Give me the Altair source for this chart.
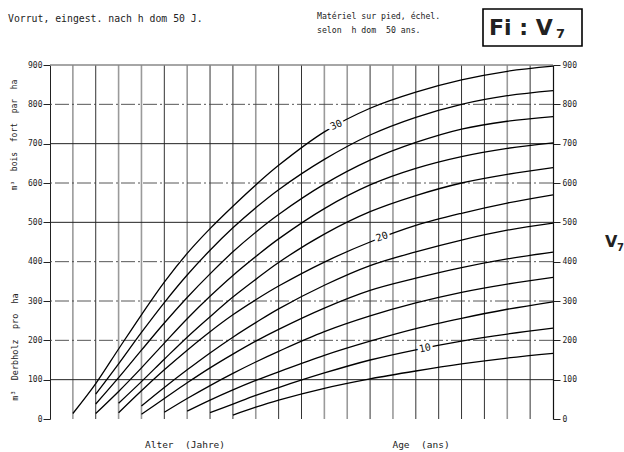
import altair as alt
import pandas as pd

# ---- data (volume m3/ha by age, one curve per h dom 50) ----
AGES_30 = [15, 20, 25, 30, 35, 40, 45, 50, 55, 60, 70, 80, 90, 100, 110, 120]
VOL_30 = [14, 90, 178, 265, 348, 421, 484, 541, 595, 645, 730, 790, 831, 862, 884, 897]
AGES_28 = [20, 25, 30, 35, 40, 45, 50, 55, 60, 70, 80, 90, 100, 110, 120]
VOL_28 = [63, 140, 220, 296, 366, 429, 486, 537, 583, 660, 722, 767, 800, 822, 835]
AGES_26 = [20, 25, 30, 35, 40, 45, 50, 55, 60, 70, 80, 90, 100, 110, 120]
VOL_26 = [38, 105, 175, 244, 309, 369, 425, 475, 520, 597, 658, 703, 737, 757, 769]
AGES_24 = [20, 25, 30, 35, 40, 45, 50, 55, 60, 70, 80, 90, 100, 110, 120]
VOL_24 = [14, 70, 130, 193, 255, 312, 365, 413, 458, 535, 595, 637, 667, 688, 702]
AGES_22 = [25, 30, 35, 40, 45, 50, 55, 60, 70, 80, 90, 100, 110, 120]
VOL_22 = [40, 95, 152, 208, 260, 310, 355, 398, 470, 527, 568, 600, 622, 639]
AGES_20 = [25, 30, 35, 40, 45, 50, 55, 60, 70, 80, 90, 100, 110, 120]
VOL_20 = [16, 72, 125, 175, 222, 265, 303, 338, 399, 450, 492, 523, 549, 570]
AGES_18 = [30, 35, 40, 45, 50, 55, 60, 70, 80, 90, 100, 110, 120]
VOL_18 = [33, 80, 125, 168, 208, 245, 280, 340, 390, 425, 455, 480, 498]
AGES_16 = [30, 35, 40, 45, 50, 55, 60, 70, 80, 90, 100, 110, 120]
VOL_16 = [12, 52, 92, 130, 165, 198, 228, 282, 327, 358, 385, 407, 424]
AGES_14 = [35, 40, 45, 50, 55, 60, 70, 80, 90, 100, 110, 120]
VOL_14 = [17, 52, 85, 116, 145, 172, 222, 262, 295, 322, 343, 360]
AGES_12 = [40, 45, 50, 55, 60, 70, 80, 90, 100, 110, 120]
VOL_12 = [20, 48, 74, 98, 120, 162, 198, 230, 256, 279, 298]
AGES_10 = [45, 50, 55, 60, 70, 80, 90, 100, 110, 120]
VOL_10 = [16, 38, 60, 80, 117, 150, 176, 198, 216, 231]
AGES_8 = [50, 55, 60, 70, 80, 90, 100, 110, 120]
VOL_8 = [10, 30, 48, 78, 102, 122, 140, 155, 167]

CURVES = {
    30: (AGES_30, VOL_30), 28: (AGES_28, VOL_28), 26: (AGES_26, VOL_26),
    24: (AGES_24, VOL_24), 22: (AGES_22, VOL_22), 20: (AGES_20, VOL_20),
    18: (AGES_18, VOL_18), 16: (AGES_16, VOL_16), 14: (AGES_14, VOL_14),
    12: (AGES_12, VOL_12), 10: (AGES_10, VOL_10), 8: (AGES_8, VOL_8),
}

# curve labels: (text, age, volume)
LABEL_TEXT = ["30", "20", "10"]
LABEL_AGE = [72.6, 82.6, 92.0]
LABEL_VOL = [747, 463, 180]

X_TICKS = [10, 20, 30, 40, 50, 60, 70, 80, 90, 100, 110, 120]
Y_TICKS = [0, 100, 200, 300, 400, 500, 600, 700, 800, 900]
V_GRID_DARK = [20, 35, 45, 50, 60, 65, 80, 90, 95, 100, 105, 115]
V_GRID_GRAY = [15, 25, 30, 40, 55, 70, 75, 85, 110]
H_GRID_SOLID = [100, 500, 700]
H_GRID_DASH = [200, 300, 400, 600, 800]

rows = []
for h, (ages, vols) in CURVES.items():
    for a, v in zip(ages, vols):
        rows.append({"h": h, "age": a, "vol": v})
df = pd.DataFrame(rows)

FONT = "DejaVu Sans Mono"
BOLD = "DejaVu Sans"
NB = "\u00a0"
L, T = 50, 65  # plot origin in page pixels
xs = alt.Scale(domain=[10, 120], nice=False, zero=False)
ys = alt.Scale(domain=[0, 900], nice=False)

vgrid_dark = alt.Chart(pd.DataFrame({"age": V_GRID_DARK})).mark_rule(
    color="#333", strokeWidth=1.0
).encode(x=alt.X("age:Q", scale=xs, axis=None))
vgrid_gray = alt.Chart(pd.DataFrame({"age": V_GRID_GRAY})).mark_rule(
    color="#9a9a9a", strokeWidth=1.6
).encode(x=alt.X("age:Q", scale=xs, axis=None))

hgrid_dash = alt.Chart(pd.DataFrame({"vol": H_GRID_DASH})).mark_rule(
    color="#444", strokeWidth=0.9, strokeDash=[14, 3, 2, 3]
).encode(y=alt.Y("vol:Q", scale=ys, axis=None))
hgrid_solid = alt.Chart(pd.DataFrame({"vol": H_GRID_SOLID})).mark_rule(
    color="#222", strokeWidth=1.0
).encode(y=alt.Y("vol:Q", scale=ys, axis=None))

topline = alt.Chart(pd.DataFrame({"vol": [900]})).mark_rule(
    color="#888", strokeWidth=1.5
).encode(y=alt.Y("vol:Q", scale=ys, axis=None))

lines = alt.Chart(df).mark_line(
    color="black", strokeWidth=1.3, interpolate="catmull-rom"
).encode(
    x=alt.X("age:Q", scale=xs, axis=alt.Axis(
        values=X_TICKS, title=None, ticks=False, labelPadding=5,
        labelFont=FONT, labelFontSize=8, labelColor="#222",
        domainColor="#333", domainDash=[14, 3, 2, 3], grid=False)),
    y=alt.Y("vol:Q", scale=ys, axis=alt.Axis(
        orient="left", values=Y_TICKS, title=None, tickSize=7, tickColor="#222",
        labelPadding=1, labelFont=FONT, labelFontSize=8, labelColor="#222",
        domainColor="#222", grid=False)),
    detail="h:N",
)

right_axis = alt.Chart(df).mark_line(opacity=0).encode(
    x=alt.X("age:Q", scale=xs, axis=None),
    y=alt.Y("vol:Q", scale=ys, axis=alt.Axis(
        orient="right", values=Y_TICKS, title=None, tickSize=7, tickColor="#222",
        labelPadding=2, labelFont=FONT, labelFontSize=8, labelColor="#222",
        domainColor="#111", domainWidth=1.2, grid=False)),
    detail="h:N",
)

ldf = pd.DataFrame({"t": LABEL_TEXT, "age": LABEL_AGE, "vol": LABEL_VOL})
angles = [336, 341, 348]
label_layers = []
for i in range(3):
    sub = ldf.iloc[[i]]
    base = alt.Chart(sub).encode(
        x=alt.X("age:Q", scale=xs, axis=None),
        y=alt.Y("vol:Q", scale=ys, axis=None),
        text="t:N",
    )
    label_layers.append(base.mark_text(font=FONT, fontSize=10, angle=angles[i],
                                       stroke="white", strokeWidth=5, color="white"))
    label_layers.append(base.mark_text(font=FONT, fontSize=10, angle=angles[i], color="#111"))


def txt(s, px, py, size=8.5, align="left", angle=0, weight="normal", font=FONT):
    kw = dict(font=font, fontSize=size, align=align, baseline="middle",
              color="#222", angle=angle, fontWeight=weight)
    return alt.Chart(pd.DataFrame({"t": [s]})).mark_text(**kw).encode(
        x=alt.value(px - L), y=alt.value(py - T), text="t:N")


def sp(s):
    return s.replace("  ", NB + NB)


annots = [
    txt("Vorrut, eingest. nach h dom 50 J.", 8, 19, size=9.8),
    txt(sp("Matériel sur pied, échel."), 317, 17, size=8.2),
    txt(sp("selon  h dom  50 ans."), 317, 31, size=8.2),
    txt(sp("Alter  (Jahre)"), 185, 445, size=9.5, align="center"),
    txt(sp("Age  (ans)"), 421, 445, size=9.5, align="center"),
    txt(sp("m³  bois  fort  par  ha"), 15, 135, size=8, align="center", angle=270),
    txt(sp("m³  Derbholz  pro  ha"), 15, 347, size=8.5, align="center", angle=270),
    txt("Fi" + NB + ":" + NB + "V", 489, 28, size=22, weight="bold", font=BOLD),
    txt("7", 556, 34, size=13, weight="bold", font=BOLD),
    txt("V", 605, 242, size=16, weight="bold", font=BOLD),
    txt("7", 617, 248, size=10, weight="bold", font=BOLD),
]

box = alt.Chart(pd.DataFrame({"a": [1]})).mark_rect(
    filled=False, stroke="black", strokeWidth=1.6
).encode(x=alt.value(483 - L), x2=alt.value(582 - L),
         y=alt.value(9 - T), y2=alt.value(46 - T))

chart = alt.layer(
    vgrid_gray, vgrid_dark, hgrid_dash, hgrid_solid, topline, lines, right_axis,
    *label_layers, box, *annots
).resolve_axis(y="independent").properties(
    width=503, height=354,
    autosize=alt.AutoSizeParams(type="none"),
    padding={"left": L, "top": T, "right": 71, "bottom": 33},
    background="white",
).configure_view(stroke=None)

chart.save("out.html", embed_options={"renderer": "svg", "actions": False})
